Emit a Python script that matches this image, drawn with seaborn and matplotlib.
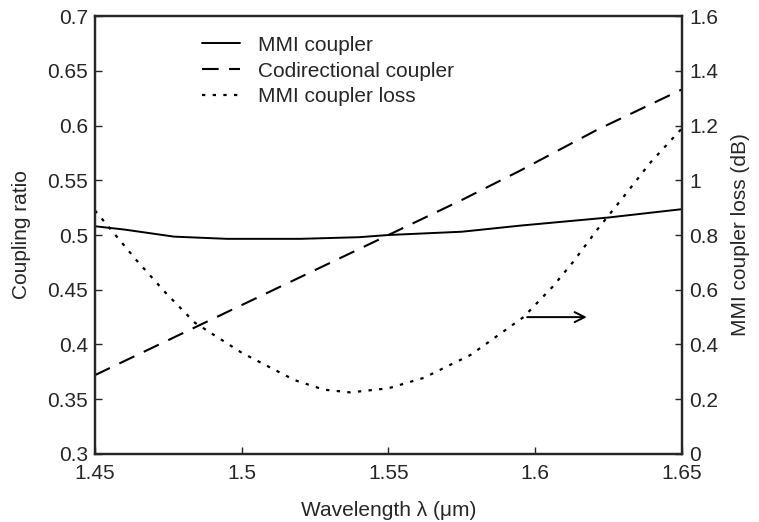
import pandas as pd
import matplotlib
matplotlib.use("Agg")
import matplotlib.pyplot as plt
import seaborn as sns

# MMI coupler coupling ratio
mmi_wl = [1.45, 1.46, 1.477, 1.495, 1.52, 1.54, 1.55, 1.575, 1.595, 1.625, 1.65]
mmi_ratio = [0.508, 0.505, 0.4985, 0.4965, 0.4965, 0.498, 0.500, 0.503, 0.5086, 0.516, 0.5236]

# codirectional coupler coupling ratio
codir_wl = [1.45, 1.475, 1.5, 1.518, 1.55, 1.575, 1.595, 1.621, 1.65]
codir_ratio = [0.372, 0.404, 0.436, 0.459, 0.500, 0.532, 0.559, 0.596, 0.633]

# MMI coupler loss (dB)
loss_wl = [1.45, 1.464, 1.474, 1.484, 1.5, 1.518, 1.528, 1.537, 1.55, 1.562, 1.578,
           1.596, 1.606, 1.613, 1.621, 1.631, 1.639, 1.65]
loss_db = [0.89, 0.71, 0.59, 0.48, 0.37, 0.27, 0.235, 0.225, 0.24, 0.278, 0.362,
           0.50, 0.612, 0.703, 0.818, 0.952, 1.062, 1.19]

sns.set_style("ticks")
plt.rcParams['font.family'] = ['Liberation Sans', 'DejaVu Sans']
plt.rcParams['font.size'] = 15

fig = plt.figure(figsize=(7.59, 5.22), dpi=100)
ax = fig.add_axes([0.125, 0.1303, 0.7736, 0.839])
ax2 = ax.twinx()

mmi_df = pd.DataFrame({"wl": mmi_wl, "val": mmi_ratio})
codir_df = pd.DataFrame({"wl": codir_wl, "val": codir_ratio})
loss_df = pd.DataFrame({"wl": loss_wl, "val": loss_db})

sns.lineplot(data=mmi_df, x="wl", y="val", ax=ax, color="black", lw=1.4,
             label="MMI coupler", legend=False)
sns.lineplot(data=codir_df, x="wl", y="val", ax=ax, color="black", lw=1.5,
             label="Codirectional coupler", legend=False)
ax.lines[-1].set_dashes([8, 5])
sns.lineplot(data=loss_df, x="wl", y="val", ax=ax2, color="black", lw=1.6,
             label="MMI coupler loss", legend=False)
ax2.lines[-1].set_dashes([1.5, 3.3])

ax.set_xlim(1.45, 1.65)
ax.set_ylim(0.3, 0.7)
ax2.set_ylim(0, 1.6)
ax.set_xticks([1.45, 1.5, 1.55, 1.6, 1.65])
ax.set_xticklabels(["1.45", "1.5", "1.55", "1.6", "1.65"])
ax.set_yticks([0.3, 0.35, 0.4, 0.45, 0.5, 0.55, 0.6, 0.65, 0.7])
ax.set_yticklabels(["0.3", "0.35", "0.4", "0.45", "0.5", "0.55", "0.6", "0.65", "0.7"])
ax2.set_yticks([0, 0.2, 0.4, 0.6, 0.8, 1.0, 1.2, 1.4, 1.6])
ax2.set_yticklabels(["0", "0.2", "0.4", "0.6", "0.8", "1", "1.2", "1.4", "1.6"])

for a in (ax, ax2):
    a.tick_params(direction="in", length=5, width=1, labelsize=15, pad=5)
    for s in a.spines.values():
        s.set_linewidth(1.6)
        s.set_visible(True)
ax.tick_params(axis="x", pad=7)

ax.set_xlabel("Wavelength λ (μm)", fontsize=15, labelpad=13)
ax.set_ylabel("Coupling ratio", fontsize=15, labelpad=12)
ax2.set_ylabel("MMI coupler loss (dB)", fontsize=15, labelpad=9)

handles = ax.get_lines() + ax2.get_lines()
ax.legend(handles=handles, labels=[h.get_label() for h in handles],
          loc="upper left", bbox_to_anchor=(0.182, 0.955), frameon=False,
          borderpad=0, borderaxespad=0, fontsize=15, handlelength=1.85,
          labelspacing=0.33, handletextpad=0.85)

ax2.annotate("", xy=(1.6185, 0.5), xytext=(1.5963, 0.5),
             arrowprops=dict(arrowstyle="->", color="black", lw=1.4,
                             mutation_scale=18))

fig.savefig("out.png", dpi=100)
